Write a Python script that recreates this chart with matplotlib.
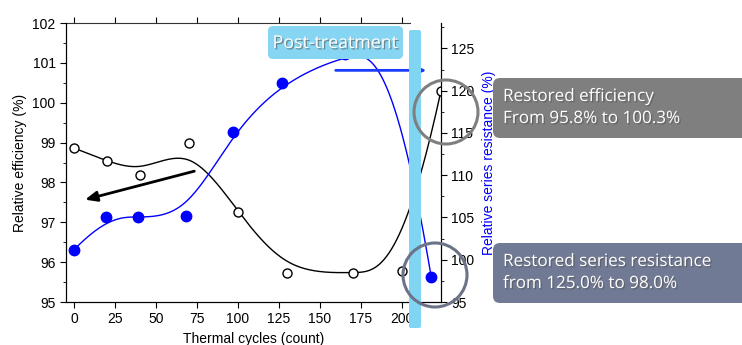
import numpy as np
import matplotlib
matplotlib.use("Agg")
import matplotlib.pyplot as plt
import matplotlib.patheffects as pe
from matplotlib.patches import FancyBboxPatch, Circle

plt.rcParams["font.family"] = ["Liberation Sans", "DejaVu Sans"]

# efficiency (left axis)
eff_cycles = [0, 20, 40, 70, 100, 130, 170, 200, 224]
eff_values = [98.86, 98.54, 98.18, 98.98, 97.26, 95.73, 95.73, 95.77, 100.3]

# series resistance (right axis)
res_cycles = [0, 19.7, 38.8, 68, 97, 126.6, 165.5, 194.5, 218]
res_values = [101.2, 105.1, 105.0, 105.2, 115.05, 120.9, 124.3, 125.0, 98.0]

x_ticks = [0, 25, 50, 75, 100, 125, 150, 175, 200]
eff_ticks = [95, 96, 97, 98, 99, 100, 101, 102]
res_ticks = [95, 100, 105, 110, 115, 120, 125]


def bspline(xs, ys, num=400, k=3):
    # clamped uniform B-spline with the data points as control points
    pts = np.column_stack([xs, ys]).astype(float)
    n = len(pts)
    inner = np.arange(1, n - k) / (n - k)
    knots = np.concatenate([np.zeros(k + 1), inner, np.ones(k + 1)])
    t = np.linspace(0, 1, num)
    t[-1] = 1 - 1e-10
    out = []
    for tt in t:
        b = np.array([1.0 if knots[i] <= tt < knots[i + 1] else 0.0
                      for i in range(len(knots) - 1)])
        for d in range(1, k + 1):
            nb = np.zeros(len(knots) - 1 - d)
            for i in range(len(nb)):
                a = 0.0
                if knots[i + d] > knots[i]:
                    a += (tt - knots[i]) / (knots[i + d] - knots[i]) * b[i]
                if knots[i + d + 1] > knots[i + 1]:
                    a += (knots[i + d + 1] - tt) / (knots[i + d + 1] - knots[i + 1]) * b[i + 1]
                nb[i] = a
            b = nb
        out.append(b @ pts)
    out = np.array(out)
    return out[:, 0], out[:, 1]


fig = plt.figure(figsize=(7.42, 3.45), dpi=100)
ax = fig.add_axes([66 / 742, 43 / 345, 375 / 742, 279 / 345])
ax2 = ax.twinx()

# vertical post-treatment bar (behind the curves)
bar = FancyBboxPatch((409, 17), 12, 298, boxstyle="round,pad=0,rounding_size=2",
                     transform=None, facecolor="#80d5f3", edgecolor="none", zorder=0)
fig.patches.append(bar)

# post-treatment label box
box = FancyBboxPatch((268, 286), 135, 33, boxstyle="round,pad=0,rounding_size=5",
                     transform=None, facecolor="#86d5f2", edgecolor="none", zorder=0)
fig.patches.append(box)

bx, by = bspline(eff_cycles, eff_values)
ax.plot(bx, by, color="black", lw=1, zorder=3)
ax.plot(eff_cycles, eff_values, "o", mfc="white", mec="black", ms=6.5, mew=1, zorder=4)

rx, ry = bspline(res_cycles, res_values)
ax2.plot(rx, ry, color="#0000ff", lw=1, zorder=3)
ax2.plot(res_cycles, res_values, "o", color="#0000ff", ms=7.5, zorder=4)

ax.set_xlim(-5, 224)
ax.set_ylim(95, 102)
ax2.set_ylim(95, 128)
ax.set_xticks(x_ticks)
ax.set_yticks(eff_ticks)
ax.set_yticks(np.arange(95, 102, 0.5), minor=True)
ax2.set_yticks(res_ticks)
ax2.set_yticks(np.arange(95, 128, 2.5), minor=True)

ax.tick_params(axis="both", which="major", direction="out", length=4, labelsize=10, top=True)
ax.tick_params(axis="y", which="minor", direction="out", length=2)
ax2.tick_params(axis="y", which="major", direction="out", length=4, labelsize=10)
ax2.tick_params(axis="y", which="minor", direction="out", length=2)
ax.spines["top"].set_bounds(-5, 205)
ax2.spines["top"].set_visible(False)
ax.spines["top"].set_color("#333333")

ax.set_xlabel("Thermal cycles (count)", fontsize=10, labelpad=4)
ax.set_ylabel("Relative efficiency (%)", fontsize=10, labelpad=4)
ax2.set_ylabel("Relative series resistance (%)", fontsize=10, color="#0000ff", labelpad=5)

ax.patch.set_visible(False)
ax2.patch.set_visible(False)

# arrows
ax.annotate("", xy=(5, 97.55), xytext=(75, 98.3),
            arrowprops=dict(arrowstyle="-|>,head_length=0.7,head_width=0.3",
                            color="black", lw=2))
ax2.annotate("", xy=(217, 122.4), xytext=(158, 122.4),
             arrowprops=dict(arrowstyle="-|>,head_length=0.6,head_width=0.25",
                             color="#1a3cff", lw=2), annotation_clip=False)

shadow = [pe.withSimplePatchShadow(offset=(1, -1), shadow_rgbFace="#555555", alpha=0.6)]
fig.text(335 / 742, 1 - 43 / 345, "Post-treatment", family="Open Sans", fontsize=12.8,
         color="white", ha="center", va="center", path_effects=shadow)

# gray circles
for cx, cy, col in [(446, 112, "#7f7f7f"), (435, 275, "#6c7389")]:
    fig.patches.append(Circle((cx, 345 - cy), 32, transform=None, fill=False,
                              edgecolor=col, lw=2.2, zorder=10))

# info boxes
for y0, col, txt in [(78, "#7f7f7f", "Restored efficiency\nFrom 95.8% to 100.3%"),
                     (243, "#717a94", "Restored series resistance\nfrom 125.0% to 98.0%")]:
    fig.patches.append(FancyBboxPatch((493, 345 - y0 - 60), 260, 60,
                                      boxstyle="round,pad=0,rounding_size=7",
                                      transform=None, facecolor=col, edgecolor="none"))
    fig.text(503 / 742, 1 - (y0 + 30) / 345, txt, family="Open Sans", fontsize=12.3,
             color="white", ha="left", va="center", linespacing=1.5, path_effects=shadow)

fig.savefig("out.png", dpi=100)
